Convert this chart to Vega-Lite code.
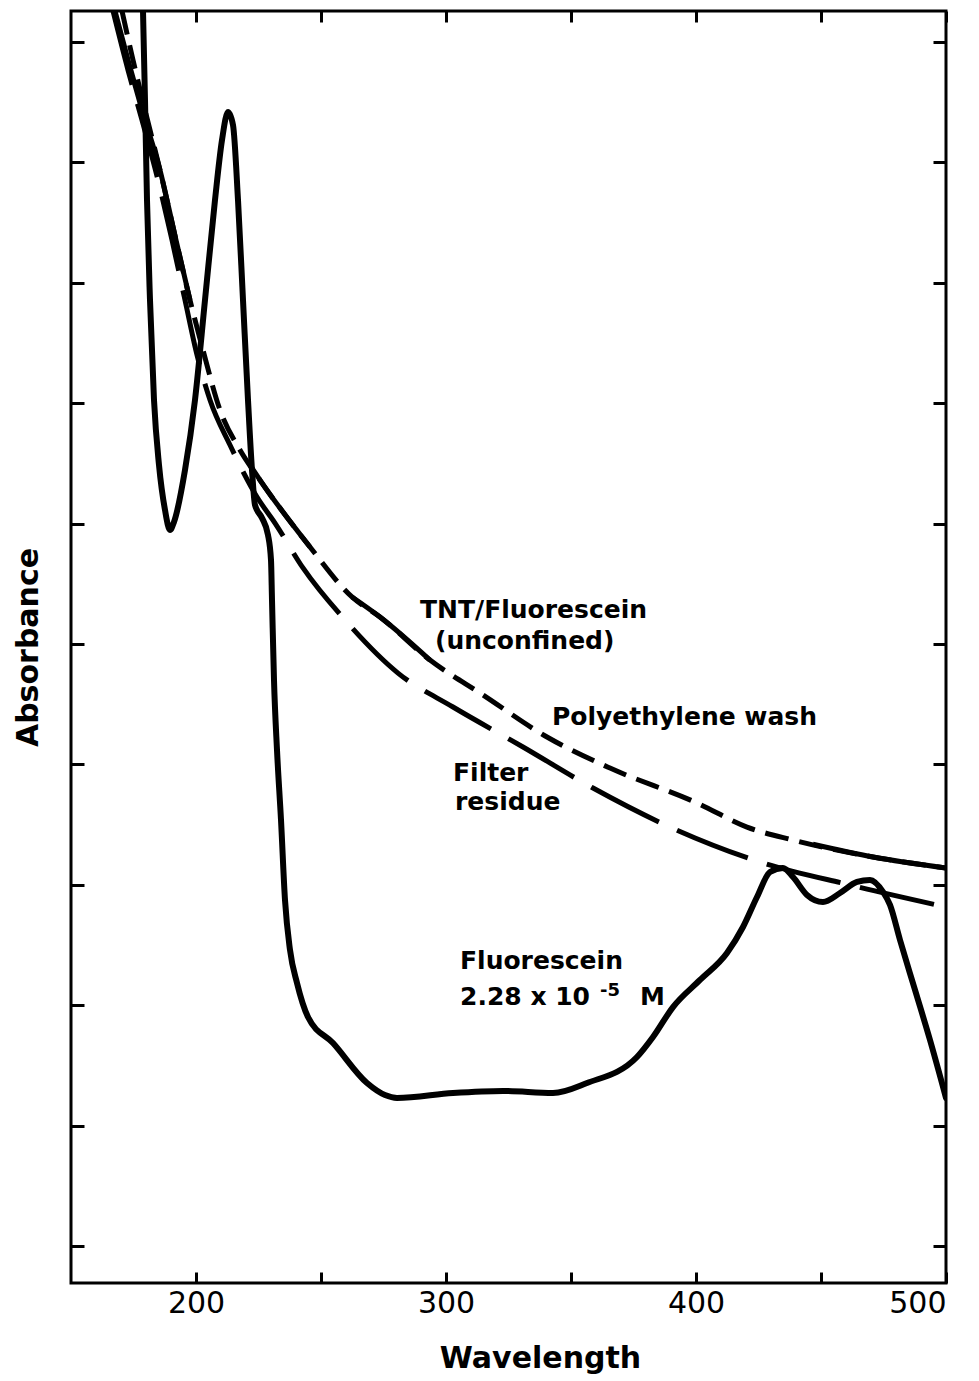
{
  "$schema": "https://vega.github.io/schema/vega-lite/v6.json",
  "width": 875,
  "height": 1272,
  "autosize": {"type": "none"},
  "padding": {"left": 71, "top": 11, "right": 33, "bottom": 98},
  "background": "white",
  "config": {
    "view": {"stroke": "black", "strokeWidth": 3},
    "font": "DejaVu Sans"
  },
  "datasets": {
    "curves": [
      {"series": "Fluorescein", "seg": 1, "wavelength": 178.8, "absorbance": 1.1258},
      {"series": "Fluorescein", "seg": 1, "wavelength": 179.6, "absorbance": 1.0519},
      {"series": "Fluorescein", "seg": 1, "wavelength": 180.4, "absorbance": 0.9688},
      {"series": "Fluorescein", "seg": 1, "wavelength": 181.6, "absorbance": 0.8857},
      {"series": "Fluorescein", "seg": 1, "wavelength": 183.2, "absorbance": 0.8027},
      {"series": "Fluorescein", "seg": 1, "wavelength": 185.2, "absorbance": 0.7487},
      {"series": "Fluorescein", "seg": 1, "wavelength": 187.6, "absorbance": 0.7113},
      {"series": "Fluorescein", "seg": 1, "wavelength": 189.6, "absorbance": 0.6947},
      {"series": "Fluorescein", "seg": 1, "wavelength": 191.2, "absorbance": 0.7014},
      {"series": "Fluorescein", "seg": 1, "wavelength": 195.6, "absorbance": 0.7446},
      {"series": "Fluorescein", "seg": 1, "wavelength": 199.6, "absorbance": 0.8027},
      {"series": "Fluorescein", "seg": 1, "wavelength": 203.6, "absorbance": 0.8857},
      {"series": "Fluorescein", "seg": 1, "wavelength": 207.6, "absorbance": 0.9688},
      {"series": "Fluorescein", "seg": 1, "wavelength": 210.4, "absorbance": 1.0186},
      {"series": "Fluorescein", "seg": 1, "wavelength": 212.8, "absorbance": 1.0419},
      {"series": "Fluorescein", "seg": 1, "wavelength": 214.8, "absorbance": 1.0311},
      {"series": "Fluorescein", "seg": 1, "wavelength": 216.8, "absorbance": 0.9688},
      {"series": "Fluorescein", "seg": 1, "wavelength": 218.8, "absorbance": 0.8857},
      {"series": "Fluorescein", "seg": 1, "wavelength": 220.8, "absorbance": 0.8027},
      {"series": "Fluorescein", "seg": 1, "wavelength": 222.4, "absorbance": 0.7446},
      {"series": "Fluorescein", "seg": 1, "wavelength": 223.6, "absorbance": 0.7155},
      {"series": "Fluorescein", "seg": 1, "wavelength": 226.4, "absorbance": 0.7047},
      {"series": "Fluorescein", "seg": 1, "wavelength": 228.8, "absorbance": 0.6906},
      {"series": "Fluorescein", "seg": 1, "wavelength": 230.0, "absorbance": 0.6698},
      {"series": "Fluorescein", "seg": 1, "wavelength": 230.4, "absorbance": 0.6366},
      {"series": "Fluorescein", "seg": 1, "wavelength": 231.2, "absorbance": 0.5701},
      {"series": "Fluorescein", "seg": 1, "wavelength": 232.4, "absorbance": 0.5120},
      {"series": "Fluorescein", "seg": 1, "wavelength": 234.0, "absorbance": 0.4539},
      {"series": "Fluorescein", "seg": 1, "wavelength": 235.6, "absorbance": 0.3874},
      {"series": "Fluorescein", "seg": 1, "wavelength": 237.6, "absorbance": 0.3459},
      {"series": "Fluorescein", "seg": 1, "wavelength": 240.4, "absorbance": 0.3185},
      {"series": "Fluorescein", "seg": 1, "wavelength": 244.8, "absorbance": 0.2902},
      {"series": "Fluorescein", "seg": 1, "wavelength": 254.8, "absorbance": 0.2686},
      {"series": "Fluorescein", "seg": 1, "wavelength": 268.4, "absorbance": 0.2354},
      {"series": "Fluorescein", "seg": 1, "wavelength": 275.6, "absorbance": 0.2254},
      {"series": "Fluorescein", "seg": 1, "wavelength": 280.4, "absorbance": 0.2230},
      {"series": "Fluorescein", "seg": 1, "wavelength": 302.8, "absorbance": 0.2271},
      {"series": "Fluorescein", "seg": 1, "wavelength": 322.8, "absorbance": 0.2288},
      {"series": "Fluorescein", "seg": 1, "wavelength": 342.8, "absorbance": 0.2271},
      {"series": "Fluorescein", "seg": 1, "wavelength": 356.4, "absorbance": 0.2354},
      {"series": "Fluorescein", "seg": 1, "wavelength": 376.4, "absorbance": 0.2570},
      {"series": "Fluorescein", "seg": 1, "wavelength": 382.8, "absorbance": 0.2736},
      {"series": "Fluorescein", "seg": 1, "wavelength": 390.8, "absorbance": 0.2985},
      {"series": "Fluorescein", "seg": 1, "wavelength": 401.6, "absorbance": 0.3210},
      {"series": "Fluorescein", "seg": 1, "wavelength": 412.4, "absorbance": 0.3434},
      {"series": "Fluorescein", "seg": 1, "wavelength": 418.8, "absorbance": 0.3650},
      {"series": "Fluorescein", "seg": 1, "wavelength": 424.4, "absorbance": 0.3899},
      {"series": "Fluorescein", "seg": 1, "wavelength": 429.6, "absorbance": 0.4107},
      {"series": "Fluorescein", "seg": 1, "wavelength": 434.8, "absorbance": 0.4140},
      {"series": "Fluorescein", "seg": 1, "wavelength": 438.8, "absorbance": 0.4065},
      {"series": "Fluorescein", "seg": 1, "wavelength": 444.4, "absorbance": 0.3916},
      {"series": "Fluorescein", "seg": 1, "wavelength": 450.8, "absorbance": 0.3857},
      {"series": "Fluorescein", "seg": 1, "wavelength": 457.6, "absorbance": 0.3932},
      {"series": "Fluorescein", "seg": 1, "wavelength": 464.4, "absorbance": 0.4024},
      {"series": "Fluorescein", "seg": 1, "wavelength": 469.6, "absorbance": 0.4041},
      {"series": "Fluorescein", "seg": 1, "wavelength": 474.8, "absorbance": 0.3941},
      {"series": "Fluorescein", "seg": 1, "wavelength": 477.6, "absorbance": 0.3833},
      {"series": "Fluorescein", "seg": 1, "wavelength": 481.6, "absorbance": 0.3542},
      {"series": "Fluorescein", "seg": 1, "wavelength": 487.6, "absorbance": 0.3127},
      {"series": "Fluorescein", "seg": 1, "wavelength": 493.6, "absorbance": 0.2711},
      {"series": "Fluorescein", "seg": 1, "wavelength": 500.0, "absorbance": 0.2230},

      {"series": "Polyethylene wash", "seg": 1, "wavelength": 170.4, "absorbance": 1.1258},
      {"series": "Polyethylene wash", "seg": 1, "wavelength": 174.8, "absorbance": 1.0851},
      {"series": "Polyethylene wash", "seg": 1, "wavelength": 179.6, "absorbance": 1.0436},
      {"series": "Polyethylene wash", "seg": 1, "wavelength": 185.6, "absorbance": 0.9937},
      {"series": "Polyethylene wash", "seg": 1, "wavelength": 192.0, "absorbance": 0.9356},
      {"series": "Polyethylene wash", "seg": 1, "wavelength": 197.6, "absorbance": 0.8857},
      {"series": "Polyethylene wash", "seg": 1, "wavelength": 202.8, "absorbance": 0.8442},
      {"series": "Polyethylene wash", "seg": 1, "wavelength": 209.6, "absorbance": 0.7944},
      {"series": "Polyethylene wash", "seg": 1, "wavelength": 217.6, "absorbance": 0.7612},
      {"series": "Polyethylene wash", "seg": 1, "wavelength": 225.6, "absorbance": 0.7362},
      {"series": "Polyethylene wash", "seg": 1, "wavelength": 245.6, "absorbance": 0.6806},
      {"series": "Polyethylene wash", "seg": 1, "wavelength": 262.4, "absorbance": 0.6391},
      {"series": "Polyethylene wash", "seg": 1, "wavelength": 273.6, "absorbance": 0.6225},
      {"series": "Polyethylene wash", "seg": 1, "wavelength": 293.6, "absorbance": 0.5867},
      {"series": "Polyethylene wash", "seg": 1, "wavelength": 314.8, "absorbance": 0.5577},
      {"series": "Polyethylene wash", "seg": 1, "wavelength": 340.4, "absorbance": 0.5228},
      {"series": "Polyethylene wash", "seg": 1, "wavelength": 365.6, "absorbance": 0.4970},
      {"series": "Polyethylene wash", "seg": 1, "wavelength": 400.4, "absorbance": 0.4680},
      {"series": "Polyethylene wash", "seg": 1, "wavelength": 420.4, "absorbance": 0.4480},
      {"series": "Polyethylene wash", "seg": 1, "wavelength": 438.8, "absorbance": 0.4372},
      {"series": "Polyethylene wash", "seg": 1, "wavelength": 470.8, "absorbance": 0.4231},
      {"series": "Polyethylene wash", "seg": 1, "wavelength": 500.0, "absorbance": 0.4140},

      {"series": "Filter residue", "seg": 1, "wavelength": 166.8, "absorbance": 1.1258},
      {"series": "Filter residue", "seg": 1, "wavelength": 172.8, "absorbance": 1.0768},
      {"series": "Filter residue", "seg": 1, "wavelength": 178.4, "absorbance": 1.0352},
      {"series": "Filter residue", "seg": 1, "wavelength": 184.8, "absorbance": 0.9854},
      {"series": "Filter residue", "seg": 1, "wavelength": 190.4, "absorbance": 0.9356},
      {"series": "Filter residue", "seg": 1, "wavelength": 195.6, "absorbance": 0.8857},
      {"series": "Filter residue", "seg": 1, "wavelength": 200.4, "absorbance": 0.8401},
      {"series": "Filter residue", "seg": 1, "wavelength": 205.6, "absorbance": 0.8027},
      {"series": "Filter residue", "seg": 1, "wavelength": 213.6, "absorbance": 0.7653},
      {"series": "Filter residue", "seg": 1, "wavelength": 224.4, "absorbance": 0.7221},
      {"series": "Filter residue", "seg": 1, "wavelength": 231.6, "absorbance": 0.7005},
      {"series": "Filter residue", "seg": 1, "wavelength": 242.8, "absorbance": 0.6632},
      {"series": "Filter residue", "seg": 1, "wavelength": 259.6, "absorbance": 0.6200},
      {"series": "Filter residue", "seg": 1, "wavelength": 280.8, "absorbance": 0.5759},
      {"series": "Filter residue", "seg": 1, "wavelength": 302.8, "absorbance": 0.5477},
      {"series": "Filter residue", "seg": 1, "wavelength": 330.8, "absorbance": 0.5145},
      {"series": "Filter residue", "seg": 1, "wavelength": 358.8, "absorbance": 0.4804},
      {"series": "Filter residue", "seg": 1, "wavelength": 389.6, "absorbance": 0.4480},
      {"series": "Filter residue", "seg": 1, "wavelength": 425.6, "absorbance": 0.4190},
      {"series": "Filter residue", "seg": 1, "wavelength": 461.6, "absorbance": 0.3999},
      {"series": "Filter residue", "seg": 1, "wavelength": 500.0, "absorbance": 0.3816},

      {"series": "TNT/Fluorescein (unconfined)", "seg": 1, "wavelength": 167.6, "absorbance": 1.1258},
      {"series": "TNT/Fluorescein (unconfined)", "seg": 1, "wavelength": 172.8, "absorbance": 1.0851},
      {"series": "TNT/Fluorescein (unconfined)", "seg": 1, "wavelength": 178.4, "absorbance": 1.0436},
      {"series": "TNT/Fluorescein (unconfined)", "seg": 1, "wavelength": 185.6, "absorbance": 0.9937},
      {"series": "TNT/Fluorescein (unconfined)", "seg": 1, "wavelength": 192.0, "absorbance": 0.9356},
      {"series": "TNT/Fluorescein (unconfined)", "seg": 1, "wavelength": 197.6, "absorbance": 0.8857},
      {"series": "TNT/Fluorescein (unconfined)", "seg": 2, "wavelength": 221.6, "absorbance": 0.7487},
      {"series": "TNT/Fluorescein (unconfined)", "seg": 2, "wavelength": 225.6, "absorbance": 0.7362},
      {"series": "TNT/Fluorescein (unconfined)", "seg": 2, "wavelength": 245.6, "absorbance": 0.6806},
      {"series": "TNT/Fluorescein (unconfined)", "seg": 3, "wavelength": 262.4, "absorbance": 0.6391},
      {"series": "TNT/Fluorescein (unconfined)", "seg": 3, "wavelength": 273.6, "absorbance": 0.6225},
      {"series": "TNT/Fluorescein (unconfined)", "seg": 3, "wavelength": 293.6, "absorbance": 0.5867},
      {"series": "TNT/Fluorescein (unconfined)", "seg": 4, "wavelength": 446.8, "absorbance": 0.4337},
      {"series": "TNT/Fluorescein (unconfined)", "seg": 4, "wavelength": 470.8, "absorbance": 0.4231},
      {"series": "TNT/Fluorescein (unconfined)", "seg": 4, "wavelength": 500.0, "absorbance": 0.4140}
    ],
    "labels": [
      {"text": "TNT/Fluorescein", "wavelength": 289.6, "absorbance": 0.6283},
      {"text": "(unconfined)", "wavelength": 295.6, "absorbance": 0.6025},
      {"text": "Polyethylene  wash", "wavelength": 342.4, "absorbance": 0.5394},
      {"text": "Filter", "wavelength": 302.8, "absorbance": 0.4929},
      {"text": "residue", "wavelength": 303.6, "absorbance": 0.4688},
      {"text": "Fluorescein", "wavelength": 305.6, "absorbance": 0.3367},
      {"text": "2.28 x 10", "wavelength": 305.6, "absorbance": 0.3068},
      {"text": "M", "wavelength": 377.6, "absorbance": 0.3068}
    ],
    "superscripts": [
      {"text": "-5", "wavelength": 361.6, "absorbance": 0.3118}
    ]
  },
  "resolve": {"axis": {"x": "independent", "y": "independent"}},
  "layer": [
    {
      "data": {"name": "curves"},
      "transform": [{"filter": "datum.series === 'Fluorescein'"}],
      "mark": {"type": "line", "color": "black", "strokeWidth": 6, "interpolate": "monotone", "clip": true, "strokeJoin": "round", "strokeCap": "round"},
      "encoding": {
        "x": {"field": "wavelength", "type": "quantitative",
              "scale": {"domain": [150, 500], "nice": false, "zero": false},
              "axis": {"orient": "bottom", "values": [200, 250, 300, 350, 400, 450, 500],
                       "labelExpr": "datum.value % 100 === 0 ? datum.label : ''",
                       "domain": false, "grid": false, "tickSize": -11, "tickWidth": 3, "tickColor": "black",
                       "labelFontSize": 30, "labelColor": "black", "labelPadding": 16, "labelFont": "DejaVu Sans",
                       "title": "Wavelength", "titleFontSize": 30, "titleFontWeight": "bold", "titleColor": "black",
                       "titleFont": "DejaVu Sans", "titleX": 469, "titleY": 75, "titleBaseline": "middle", "titleAlign": "center"}},
        "y": {"field": "absorbance", "type": "quantitative",
              "scale": {"domain": [0.0693, 1.1258], "nice": false, "zero": false},
              "axis": {"orient": "left", "values": [0.1, 0.2, 0.3, 0.4, 0.5, 0.6, 0.7, 0.8, 0.9, 1.0, 1.1],
                       "labels": false, "domain": false, "grid": false, "tickSize": -13, "tickWidth": 3, "tickColor": "black",
                       "title": "Absorbance", "titleFontSize": 30, "titleFontWeight": "bold", "titleColor": "black",
                       "titleFont": "DejaVu Sans", "titleX": -43, "titleY": 636, "titleAngle": -90,
                       "titleBaseline": "middle", "titleAlign": "center"}},
        "detail": {"field": "seg"}
      }
    },
    {
      "data": {"name": "curves"},
      "transform": [{"filter": "datum.series === 'Polyethylene wash'"}],
      "mark": {"type": "line", "color": "black", "strokeWidth": 5, "interpolate": "monotone", "clip": true, "strokeDash": [24, 11]},
      "encoding": {
        "x": {"field": "wavelength", "type": "quantitative",
              "axis": {"orient": "top", "values": [200, 250, 300, 350, 400, 450, 500], "labels": false, "domain": false,
                       "grid": false, "tickSize": -11, "tickWidth": 3, "tickColor": "black", "title": null}},
        "y": {"field": "absorbance", "type": "quantitative",
              "axis": {"orient": "right", "values": [0.1, 0.2, 0.3, 0.4, 0.5, 0.6, 0.7, 0.8, 0.9, 1.0, 1.1],
                       "labels": false, "domain": false, "grid": false, "tickSize": -13, "tickWidth": 3,
                       "tickColor": "black", "title": null}},
        "detail": {"field": "seg"}
      }
    },
    {
      "data": {"name": "curves"},
      "transform": [{"filter": "datum.series === 'Filter residue'"}],
      "mark": {"type": "line", "color": "black", "strokeWidth": 5, "interpolate": "monotone", "clip": true, "strokeDash": [76, 20]},
      "encoding": {
        "x": {"field": "wavelength", "type": "quantitative", "axis": null},
        "y": {"field": "absorbance", "type": "quantitative", "axis": null},
        "detail": {"field": "seg"}
      }
    },
    {
      "data": {"name": "curves"},
      "transform": [{"filter": "datum.series === 'TNT/Fluorescein (unconfined)'"}],
      "mark": {"type": "line", "color": "black", "strokeWidth": 5, "interpolate": "monotone", "clip": true},
      "encoding": {
        "x": {"field": "wavelength", "type": "quantitative", "axis": null},
        "y": {"field": "absorbance", "type": "quantitative", "axis": null},
        "detail": {"field": "seg"}
      }
    },
    {
      "data": {"name": "labels"},
      "mark": {"type": "text", "align": "left", "baseline": "middle", "fontSize": 25, "fontWeight": "bold", "font": "DejaVu Sans", "color": "black"},
      "encoding": {
        "x": {"field": "wavelength", "type": "quantitative", "axis": null},
        "y": {"field": "absorbance", "type": "quantitative", "axis": null},
        "text": {"field": "text"}
      }
    },
    {
      "data": {"name": "superscripts"},
      "mark": {"type": "text", "align": "left", "baseline": "middle", "fontSize": 18, "fontWeight": "bold", "font": "DejaVu Sans", "color": "black"},
      "encoding": {
        "x": {"field": "wavelength", "type": "quantitative", "axis": null},
        "y": {"field": "absorbance", "type": "quantitative", "axis": null},
        "text": {"field": "text"}
      }
    }
  ]
}
